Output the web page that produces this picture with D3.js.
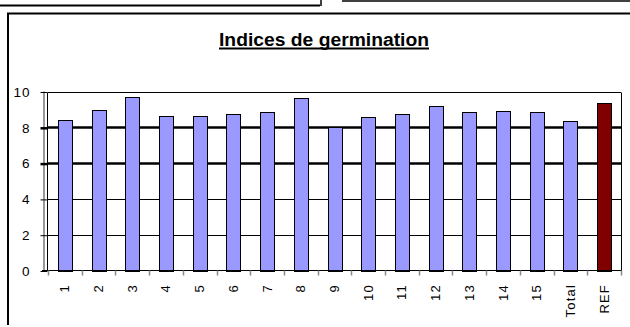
<!DOCTYPE html>
<html>
<head>
<meta charset="utf-8">
<script src="https://cdn.jsdelivr.net/npm/d3@7"></script>
<style>
  html, body { margin: 0; padding: 0; background: #fff; }
  svg { display: block; }
  text { font-family: "Liberation Sans", Arial, sans-serif; }
</style>
</head>
<body>
<svg id="chart" width="630" height="327"></svg>
<script>
// Germination index per sample, plus overall total and the reference
const categories = ["1","2","3","4","5","6","7","8","9","10","11","12","13","14","15","Total","REF"];
const values = [8.40, 8.96, 9.69, 8.63, 8.63, 8.74, 8.85, 9.63, 8.04, 8.57, 8.74, 9.18, 8.85, 8.90, 8.85, 8.35, 9.35];
const yTicks = [0, 2, 4, 6, 8, 10];
const titleText = "Indices de germination";

const svg = d3.select("#chart");
const W = 630, H = 327;
const plot = { left: 48, right: 621, top: 91.5, bottom: 270.5 };

svg.append("rect").attr("width", W).attr("height", H).attr("fill", "#fff");

// Page rules above the chart frame
svg.append("line").attr("x1", 0).attr("x2", 320).attr("y1", 5.5).attr("y2", 5.5)
  .attr("stroke", "#000").attr("stroke-width", 2);
svg.append("line").attr("x1", 321).attr("x2", 321).attr("y1", 0).attr("y2", 6)
  .attr("stroke", "#000").attr("stroke-width", 1.5);
svg.append("line").attr("x1", 342).attr("x2", W).attr("y1", 1).attr("y2", 1)
  .attr("stroke", "#000").attr("stroke-width", 1.5);

// Chart frame (continues past the right and bottom edges)
svg.append("path")
  .attr("d", `M8,${H - 2} L8,13.5 L${W},13.5`)
  .attr("fill", "none").attr("stroke", "#000").attr("stroke-width", 2);

// Title, bold and underlined
svg.append("text")
  .attr("x", 219).attr("y", 45.5)
  .attr("font-size", 18).attr("font-weight", "bold")
  .attr("textLength", 210).attr("lengthAdjust", "spacingAndGlyphs")
  .text(titleText);
svg.append("line").attr("x1", 219).attr("x2", 429).attr("y1", 48.5).attr("y2", 48.5)
  .attr("stroke", "#000").attr("stroke-width", 2);

// Scales
const x = d3.scaleBand().domain(categories).range([plot.left, plot.right]).paddingInner(0).paddingOuter(0);
const y = d3.scaleLinear().domain([0, 10]).range([plot.bottom, plot.top]);
const barW = 14;

// Horizontal gridlines: 6 and 8 drawn heavier
const grid = svg.append("g");
grid.selectAll("line").data(yTicks.filter(d => d > 0)).join("line")
  .attr("x1", plot.left).attr("x2", plot.right)
  .attr("y1", d => Math.round(y(d)) + 0.5).attr("y2", d => Math.round(y(d)) + 0.5)
  .attr("stroke", "#000")
  .attr("stroke-width", d => (d === 6 || d === 8) ? 2.5 : 1);

// Plot area right border
svg.append("line").attr("x1", plot.right + 0.5).attr("x2", plot.right + 0.5)
  .attr("y1", Math.round(y(10)) + 0.5).attr("y2", plot.bottom)
  .attr("stroke", "#000").attr("stroke-width", 1);

// Bars
svg.append("g").selectAll("rect").data(categories).join("rect")
  .attr("x", d => Math.round(x(d) + x.bandwidth() / 2 - barW / 2) + 0.5)
  .attr("y", (d, i) => Math.round(y(values[i])) + 0.5)
  .attr("width", barW)
  .attr("height", (d, i) => Math.round(plot.bottom) - Math.round(y(values[i])))
  .attr("fill", d => d === "REF" ? "#800000" : "#9999FF")
  .attr("stroke", "#000").attr("stroke-width", 1);

// Y axis: grey axis line, black plot edge, ticks and labels
svg.append("line").attr("x1", 44).attr("x2", 44).attr("y1", y(10)).attr("y2", plot.bottom)
  .attr("stroke", "#9a9a9a").attr("stroke-width", 2);
svg.append("line").attr("x1", plot.left - 0.5).attr("x2", plot.left - 0.5)
  .attr("y1", Math.round(y(10)) + 0.5).attr("y2", plot.bottom)
  .attr("stroke", "#000").attr("stroke-width", 1);

const yAxis = d3.axisLeft(y).tickValues(yTicks).tickSize(7).tickPadding(10).tickFormat(d3.format("d"));
const gy = svg.append("g").attr("transform", `translate(${plot.left - 0.5},0.5)`).call(yAxis);
gy.select(".domain").remove();
gy.selectAll(".tick line").attr("stroke", "#000")
  .attr("stroke-width", d => (d === 6 || d === 8) ? 2.5 : 1);
gy.selectAll(".tick text").attr("font-size", 13.5).attr("fill", "#000")
  .attr("letter-spacing", 1)
  .attr("font-family", "'Liberation Sans', Arial, sans-serif");

// X axis: baseline, grey ticks at category boundaries, rotated labels
svg.append("line").attr("x1", plot.left - 6).attr("x2", plot.right + 1)
  .attr("y1", plot.bottom).attr("y2", plot.bottom)
  .attr("stroke", "#000").attr("stroke-width", 1);

const bounds = categories.map(c => x(c)).concat([plot.right]);
svg.append("g").selectAll("line").data(bounds).join("line")
  .attr("x1", d => Math.round(d) + 0.5).attr("x2", d => Math.round(d) + 0.5)
  .attr("y1", plot.bottom).attr("y2", plot.bottom + 5)
  .attr("stroke", "#8a8a8a").attr("stroke-width", 1.5);

svg.append("g").selectAll("text").data(categories).join("text")
  .attr("transform", d => `translate(${x(d) + x.bandwidth() / 2},284) rotate(-90)`)
  .attr("text-anchor", "end")
  .attr("dominant-baseline", "central")
  .attr("font-size", 13)
  .attr("letter-spacing", 1.2)
  .attr("fill", "#000")
  .text(d => d);
</script>
</body>
</html>
